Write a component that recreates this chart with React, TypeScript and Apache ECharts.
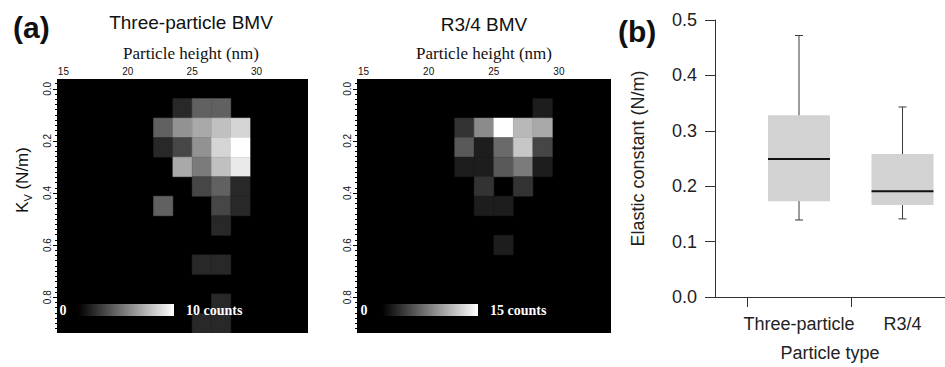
import React, { useEffect, useRef } from 'react';
import * as echarts from 'echarts';

// ---- Heatmap axes (panel a) ----
const heightRange = [14.5, 34];
const kvRange = [-0.0375, 0.9375];
const heightBinWidth = 1.5;
const kvBinWidth = 0.075;
const heightTicks = [15, 20, 25, 30];
const heightMinorTicks = [16, 17, 18, 19, 21, 22, 23, 24, 26, 27, 28, 29, 31, 32, 33];
const kvTicks = [0, 0.2, 0.4, 0.6, 0.8];

// [particle height bin centre (nm), Kv bin centre (N/m), counts]
const threeParticleCounts = [
  [24.25, 0.075, 1], [25.75, 0.075, 3], [27.25, 0.075, 3],
  [22.75, 0.15, 3], [24.25, 0.15, 5], [25.75, 0.15, 6], [27.25, 0.15, 7], [28.75, 0.15, 8],
  [22.75, 0.225, 1], [24.25, 0.225, 2], [25.75, 0.225, 5], [27.25, 0.225, 8], [28.75, 0.225, 10],
  [24.25, 0.3, 6], [25.75, 0.3, 4], [27.25, 0.3, 7], [28.75, 0.3, 9],
  [25.75, 0.375, 2], [27.25, 0.375, 3], [28.75, 0.375, 1],
  [22.75, 0.45, 3], [27.25, 0.45, 2], [28.75, 0.45, 1],
  [27.25, 0.525, 1],
  [25.75, 0.675, 1], [27.25, 0.675, 1],
  [27.25, 0.825, 1],
  [25.75, 0.9, 1], [27.25, 0.9, 1],
];
const threeParticleMax = 10;

const r34Counts = [
  [28.75, 0.075, 1],
  [22.75, 0.15, 2], [24.25, 0.15, 7], [25.75, 0.15, 15], [27.25, 0.15, 10], [28.75, 0.15, 9],
  [22.75, 0.225, 4], [24.25, 0.225, 1], [25.75, 0.225, 5], [27.25, 0.225, 11], [28.75, 0.225, 3],
  [22.75, 0.3, 1], [24.25, 0.3, 1], [25.75, 0.3, 4], [27.25, 0.3, 6], [28.75, 0.3, 1],
  [24.25, 0.375, 2], [27.25, 0.375, 2],
  [24.25, 0.45, 1], [25.75, 0.45, 1],
  [25.75, 0.6, 1],
];
const r34Max = 15;

// ---- Box plot (panel b) ----
const boxCategories = ['Three-particle', 'R3/4'];
const boxPositions = [1, 2];
const boxMin = [0.139, 0.141];
const boxQ1 = [0.173, 0.166];
const boxMedian = [0.249, 0.191];
const boxQ3 = [0.328, 0.258];
const boxMax = [0.472, 0.343];
const boxCategoryTicks = [0.5, 1.5];
const elasticTicks = [0, 0.1, 0.2, 0.3, 0.4, 0.5];

const kvMinorTicks: number[] = [];
for (let i = -1; i <= 46; i++) {
  const v = Math.round(i * 2) / 100;
  if (i % 10 !== 0 && v > kvRange[0] && v < kvRange[1]) kvMinorTicks.push(v);
}

const SANS = 'Liberation Sans';
const SERIF = 'Liberation Serif';

function heatRender(max: number) {
  return (params: any, api: any) => {
    const x = api.value(0);
    const y = api.value(1);
    const c = api.value(2);
    const p0 = api.coord([x - heightBinWidth / 2, y - kvBinWidth / 2]);
    const p1 = api.coord([x + heightBinWidth / 2, y + kvBinWidth / 2]);
    const g = Math.round(255 * Math.pow(c / max, 0.8));
    const col = `rgb(${g},${g},${g})`;
    return {
      type: 'rect',
      shape: {
        x: Math.min(p0[0], p1[0]),
        y: Math.min(p0[1], p1[1]),
        width: Math.abs(p1[0] - p0[0]),
        height: Math.abs(p1[1] - p0[1]),
      },
      style: { fill: col, stroke: col, lineWidth: 0.5 },
    };
  };
}

function boxRender(params: any, api: any) {
  const pos = api.value(0);
  const lo = api.coord([pos, api.value(1)]);
  const q1 = api.coord([pos, api.value(2)]);
  const md = api.coord([pos, api.value(3)]);
  const q3 = api.coord([pos, api.value(4)]);
  const hi = api.coord([pos, api.value(5)]);
  const cx = md[0];
  const hw = 31;
  const cap = 4;
  const ws = { stroke: '#3a3a3a', lineWidth: 1 };
  return {
    type: 'group',
    children: [
      { type: 'rect', shape: { x: cx - hw, y: q3[1], width: hw * 2, height: q1[1] - q3[1] }, style: { fill: '#d2d2d2' } },
      { type: 'line', shape: { x1: cx, y1: q3[1], x2: cx, y2: hi[1] }, style: ws },
      { type: 'line', shape: { x1: cx - cap, y1: hi[1], x2: cx + cap, y2: hi[1] }, style: ws },
      { type: 'line', shape: { x1: cx, y1: q1[1], x2: cx, y2: lo[1] }, style: ws },
      { type: 'line', shape: { x1: cx - cap, y1: lo[1], x2: cx + cap, y2: lo[1] }, style: ws },
      { type: 'line', shape: { x1: cx - hw, y1: md[1], x2: cx + hw, y2: md[1] }, style: { stroke: '#111', lineWidth: 2 } },
    ],
  };
}

function heatXAxes(gridIndex: number) {
  const base = {
    gridIndex,
    type: 'value',
    position: 'top',
    min: heightRange[0],
    max: heightRange[1],
    axisLine: { show: false },
    splitLine: { show: false },
  };
  return [
    {
      ...base,
      axisTick: { show: true, customValues: heightTicks, length: 4, lineStyle: { color: '#000', width: 1 } },
      axisLabel: { show: true, customValues: heightTicks, margin: 3, fontSize: 10, color: '#111', fontFamily: SANS },
    },
    {
      ...base,
      axisTick: { show: true, customValues: heightMinorTicks, length: 2.5, lineStyle: { color: '#000', width: 1 } },
      axisLabel: { show: false },
    },
  ];
}

function heatYAxes(gridIndex: number) {
  const base = {
    gridIndex,
    type: 'value',
    position: 'left',
    inverse: true,
    min: kvRange[0],
    max: kvRange[1],
    axisLine: { show: false },
    splitLine: { show: false },
  };
  return [
    {
      ...base,
      axisTick: { show: true, customValues: kvTicks, length: 4, lineStyle: { color: '#000', width: 1 } },
      axisLabel: {
        show: true, customValues: kvTicks, rotate: 90, margin: 5, fontSize: 10, color: '#111', fontFamily: SANS,
        formatter: (v: number) => v.toFixed(1),
      },
    },
    {
      ...base,
      axisTick: { show: true, customValues: kvMinorTicks, length: 2, lineStyle: { color: '#000', width: 1 } },
      axisLabel: { show: false },
    },
  ];
}

function colorBar(zeroX: number, barX: number, label: string) {
  const y = 310;
  return [
    { type: 'text', z: 100, x: zeroX, y, style: { text: '0', fill: '#fff', font: `bold 14px "${SERIF}"`, align: 'center', verticalAlign: 'middle' } },
    {
      type: 'rect', z: 100, shape: { x: barX, y: y - 6, width: 96, height: 12 },
      style: {
        fill: new echarts.graphic.LinearGradient(0, 0, 1, 0, [
          { offset: 0, color: '#000' },
          { offset: 1, color: '#fff' },
        ]),
      },
    },
    { type: 'text', z: 100, x: barX + 108, y, style: { text: label, fill: '#fff', font: `bold 14px "${SERIF}"`, align: 'left', verticalAlign: 'middle' } },
  ];
}

export default function App() {
  const ref = useRef<HTMLDivElement>(null);
  useEffect(() => {
    if (!ref.current) return;
    const chart = echarts.init(ref.current, undefined, { renderer: 'svg' });
    const option: any = {
      animation: false,
      textStyle: { fontFamily: SANS },
      grid: [
        { left: 57, top: 79, width: 251, height: 254, show: true, backgroundColor: '#000', borderWidth: 0 },
        { left: 357, top: 79, width: 254, height: 254, show: true, backgroundColor: '#000', borderWidth: 0 },
        { left: 715, top: 20, right: 0, bottom: 63 },
      ],
      xAxis: [
        ...heatXAxes(0),
        ...heatXAxes(1),
        {
          gridIndex: 2,
          type: 'value',
          min: 0.1884,
          max: 2.4106,
          axisLine: { show: true, lineStyle: { color: '#333', width: 1 } },
          axisTick: { show: true, customValues: boxCategoryTicks, length: 10, lineStyle: { color: '#333' } },
          axisLabel: {
            show: true, customValues: boxPositions, margin: 18, fontSize: 18, color: '#222', fontFamily: SANS,
            formatter: (v: number) => boxCategories[Math.round(v) - 1] ?? '',
          },
          splitLine: { show: false },
          name: 'Particle type',
          nameLocation: 'middle',
          nameGap: 47,
          nameTextStyle: { fontSize: 18, color: '#222', fontFamily: SANS },
        },
      ],
      yAxis: [
        ...heatYAxes(0),
        ...heatYAxes(1),
        {
          gridIndex: 2,
          type: 'value',
          min: 0,
          max: 0.5,
          interval: 0.1,
          axisLine: { show: true, lineStyle: { color: '#333', width: 1 } },
          axisTick: { show: true, customValues: elasticTicks, length: 10, lineStyle: { color: '#333' } },
          axisLabel: {
            show: true, margin: 18, fontSize: 18, color: '#222', fontFamily: SANS,
            formatter: (v: number) => v.toFixed(1),
          },
          splitLine: { show: false },
          name: 'Elastic constant (N/m)',
          nameLocation: 'middle',
          nameGap: 68,
          nameTextStyle: { fontSize: 18, color: '#222', fontFamily: SANS },
        },
      ],
      series: [
        {
          type: 'custom', name: 'Three-particle BMV', xAxisIndex: 0, yAxisIndex: 0,
          renderItem: heatRender(threeParticleMax), data: threeParticleCounts,
          encode: { x: 0, y: 1 }, clip: true,
        },
        {
          type: 'custom', name: 'R3/4 BMV', xAxisIndex: 2, yAxisIndex: 2,
          renderItem: heatRender(r34Max), data: r34Counts,
          encode: { x: 0, y: 1 }, clip: true,
        },
        {
          type: 'custom', name: 'Elastic constant', xAxisIndex: 4, yAxisIndex: 4,
          renderItem: boxRender,
          data: boxPositions.map((p, i) => [p, boxMin[i], boxQ1[i], boxMedian[i], boxQ3[i], boxMax[i]]),
          encode: { x: 0, y: [1, 2, 3, 4, 5] },
        },
      ],
      graphic: [
        { type: 'text', z: 100, x: 13, y: 27, style: { text: '(a)', fill: '#111', font: `bold 30px "${SANS}"`, align: 'left', verticalAlign: 'middle' } },
        { type: 'text', z: 100, x: 191, y: 22, style: { text: 'Three-particle BMV', fill: '#111', font: `19px "${SANS}"`, align: 'center', verticalAlign: 'middle' } },
        { type: 'text', z: 100, x: 484, y: 24, style: { text: 'R3/4 BMV', fill: '#111', font: `19px "${SANS}"`, align: 'center', verticalAlign: 'middle' } },
        { type: 'text', z: 100, x: 191, y: 53, style: { text: 'Particle height (nm)', fill: '#111', font: `17px "${SERIF}"`, align: 'center', verticalAlign: 'middle' } },
        { type: 'text', z: 100, x: 484, y: 53, style: { text: 'Particle height (nm)', fill: '#111', font: `17px "${SERIF}"`, align: 'center', verticalAlign: 'middle' } },
        {
          type: 'text', z: 100, x: 22, y: 180, rotation: Math.PI / 2,
          style: {
            text: '{k|K}{s|V}{k| (N/m)}', align: 'center', verticalAlign: 'middle',
            rich: {
              k: { fontSize: 17, fontFamily: SANS, fill: '#111', lineHeight: 22 },
              s: { fontSize: 11, fontFamily: SANS, fill: '#111', lineHeight: 11, verticalAlign: 'bottom' },
            },
          },
        },
        { type: 'text', z: 100, x: 618, y: 31, style: { text: '(b)', fill: '#111', font: `bold 30px "${SANS}"`, align: 'left', verticalAlign: 'middle' } },
        ...colorBar(63, 78, '10 counts'),
        ...colorBar(364, 382, '15 counts'),
      ],
    };
    chart.setOption(option);
    return () => chart.dispose();
  }, []);
  return <div ref={ref} style={{ position: 'absolute', left: 0, top: 0, width: 945, height: 367 }} />;
}
